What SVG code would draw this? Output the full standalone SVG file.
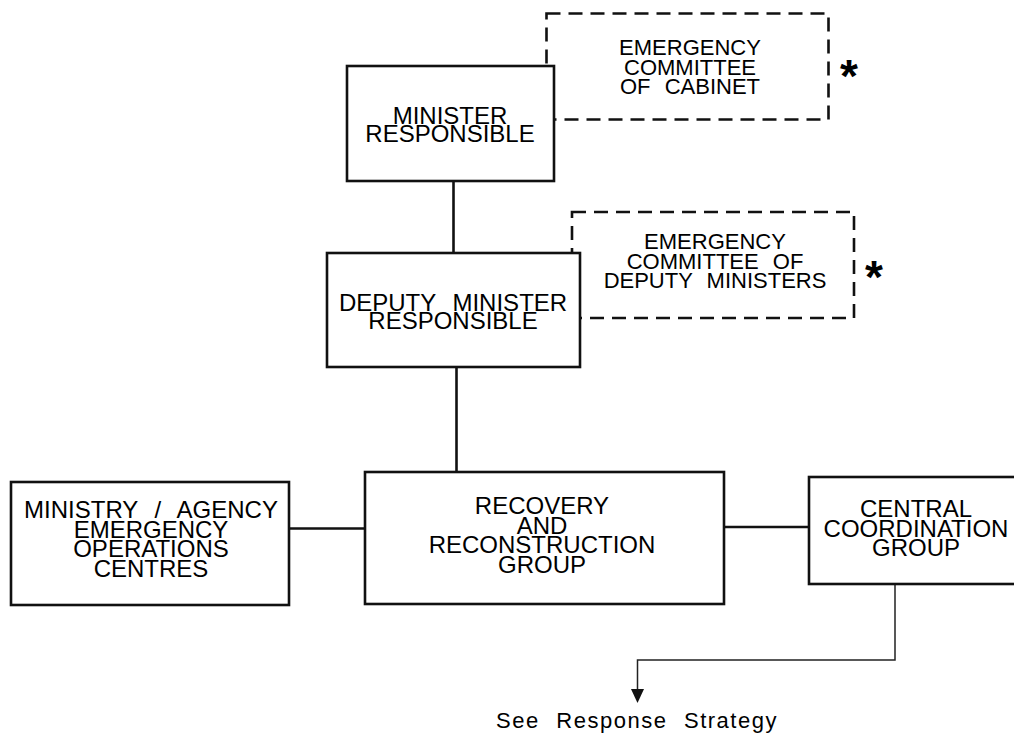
<svg xmlns="http://www.w3.org/2000/svg" width="1014" height="738" viewBox="0 0 1014 738">
<style>
.box{fill:#fff;stroke:#111;stroke-width:2.6}
.dash{fill:none;stroke:#111;stroke-width:2.6;stroke-dasharray:14 8}
.t{font-family:"Liberation Sans",Arial,sans-serif;font-size:24px;fill:#000;text-anchor:middle;word-spacing:10px}
.s{font-size:22px;word-spacing:8px}
.ast{font-family:"Liberation Sans",Arial,sans-serif;font-size:46px;font-weight:bold;fill:#000;text-anchor:middle}
.c{fill:none;stroke:#111;stroke-width:2.6}
.thin{fill:none;stroke:#222;stroke-width:1.5}
</style>
<g id="connectors">
<line class="c" x1="453.5" y1="181" x2="453.5" y2="253"/>
<line class="c" x1="456.5" y1="367" x2="456.5" y2="472"/>
<line class="c" x1="289" y1="528.5" x2="365" y2="528.5"/>
<line class="c" x1="724" y1="527" x2="809" y2="527"/>
<polyline class="thin" points="895,584 895,660 637.5,660 637.5,690"/>
<polygon points="631,689 644,689 637.5,703" fill="#111"/>
</g>
<g id="cabinet-committee">
<rect class="dash" x="546.5" y="13.5" width="282" height="106"/>
<text class="t s" x="690" y="55">EMERGENCY<tspan x="690" dy="19.5">COMMITTEE</tspan><tspan x="690" dy="19.5">OF CABINET</tspan></text>
<text class="ast" x="849" y="92">*</text>
</g>
<g id="minister">
<rect class="box" x="347" y="66" width="207" height="115"/>
<text class="t" x="450" y="124">MINISTER<tspan x="450" dy="18">RESPONSIBLE</tspan></text>
</g>
<g id="deputy-committee">
<rect class="dash" x="572" y="212" width="282" height="106"/>
<text class="t s" x="715" y="249">EMERGENCY<tspan x="715" dy="19.5">COMMITTEE OF</tspan><tspan x="715" dy="19.5">DEPUTY MINISTERS</tspan></text>
<text class="ast" x="874" y="293">*</text>
</g>
<g id="deputy">
<rect class="box" x="327" y="253" width="253" height="114"/>
<text class="t" x="453" y="311">DEPUTY MINISTER<tspan x="453" dy="18">RESPONSIBLE</tspan></text>
</g>
<g id="ministry-eoc">
<rect class="box" x="11" y="482" width="278" height="123"/>
<text class="t" x="151" y="518">MINISTRY / AGENCY<tspan x="151" dy="19.5">EMERGENCY</tspan><tspan x="151" dy="19.5">OPERATIONS</tspan><tspan x="151" dy="19.5">CENTRES</tspan></text>
</g>
<g id="recovery">
<rect class="box" x="365" y="472" width="359" height="132"/>
<text class="t" x="542" y="514">RECOVERY<tspan x="542" dy="19.5">AND</tspan><tspan x="542" dy="19.5">RECONSTRUCTION</tspan><tspan x="542" dy="19.5">GROUP</tspan></text>
</g>
<g id="central">
<rect class="box" x="809" y="477" width="215" height="107"/>
<text class="t" x="916" y="517">CENTRAL<tspan x="916" dy="19.5">COORDINATION</tspan><tspan x="916" dy="19.5">GROUP</tspan></text>
</g>
<g id="response-strategy">
<text class="t" x="637" y="728" style="font-size:22px;letter-spacing:1.5px;word-spacing:9px">See Response Strategy</text>
</g>
</svg>
